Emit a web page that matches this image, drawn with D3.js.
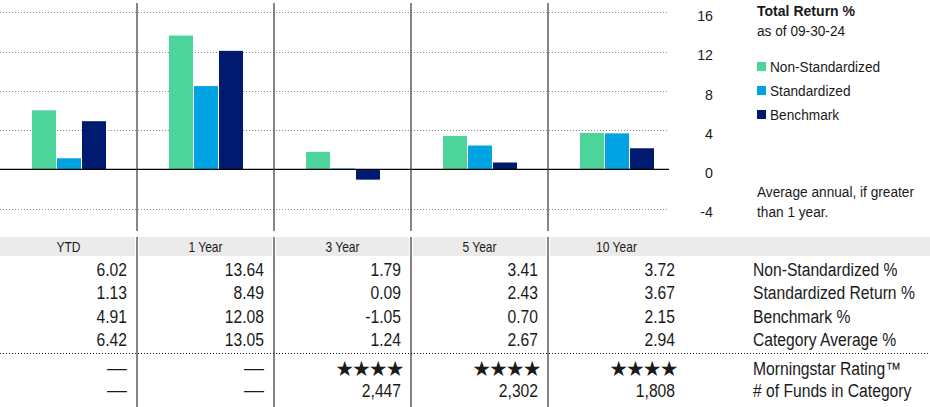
<!DOCTYPE html>
<html>
<head>
<meta charset="utf-8">
<script src="https://cdn.jsdelivr.net/npm/d3@7/dist/d3.min.js"></script>
<style>
  html, body { margin: 0; padding: 0; background: #fff; }
  svg { display: block; }
  text { font-family: "Liberation Sans", Arial, sans-serif; fill: #1a1a1a; }
</style>
</head>
<body>
<svg id="chart" width="930" height="407"></svg>
<script>
// Trailing total returns by period
const categories = ["YTD", "1 Year", "3 Year", "5 Year", "10 Year"];
const nonStandardized = [6.02, 13.64, 1.79, 3.41, 3.72];
const standardized = [1.13, 8.49, 0.09, 2.43, 3.67];
const benchmark = [4.91, 12.08, -1.05, 0.70, 2.15];
const categoryAverage = [6.42, 13.05, 1.24, 2.67, 2.94];
const ratings = [null, null, 4, 4, 4];
const fundsInCategory = [null, null, 2447, 2302, 1808];
const yTicks = [-4, 0, 4, 8, 12, 16];

const seriesNames = ["Non-Standardized", "Standardized", "Benchmark"];
const seriesColors = ["#4cd49a", "#00a3e2", "#001a70"];
const rowLabels = ["Non-Standardized %", "Standardized Return %", "Benchmark %", "Category Average %"];

const locale = d3.formatLocale({ decimal: ".", thousands: ",", grouping: [3], currency: ["$", ""], minus: "-" });
const fmt = locale.format(".2f");
const fmtInt = locale.format("d");
const fmtCount = locale.format(",");

const svg = d3.select("#chart");

// Narrow text: regular face squeezed horizontally for a condensed look
function place(sel, x, y, k) {
  return sel.attr("x", 0).attr("y", 0)
    .attr("transform", `translate(${x},${y}) scale(${k},1)`);
}

// Scales
const x = d3.scaleBand().domain(categories).range([0, 685]).padding(0);
const xInner = d3.scaleBand().domain(seriesNames).range([32, 107]).padding(0);
const y = d3.scaleLinear().domain([-4, 16]).range([208.6, 12.4]);
const plotRight = 669;

// Gridlines
svg.append("g").selectAll("line")
  .data(yTicks.filter(d => d !== 0))
  .join("line")
  .attr("x1", 0).attr("x2", plotRight)
  .attr("y1", d => Math.round(y(d)) + 0.5).attr("y2", d => Math.round(y(d)) + 0.5)
  .attr("stroke", "#8a8a8a").attr("stroke-width", 1)
  .attr("stroke-dasharray", "1,2");

// Bars
const series = [nonStandardized, standardized, benchmark];
const barData = [];
categories.forEach((c, i) => {
  seriesNames.forEach((s, j) => barData.push({ cat: c, s, v: series[j][i], color: seriesColors[j] }));
});
svg.append("g").selectAll("rect")
  .data(barData)
  .join("rect")
  .attr("x", d => x(d.cat) + xInner(d.s))
  .attr("width", xInner.bandwidth() - 1)
  .attr("y", d => Math.min(y(d.v), y(0)))
  .attr("height", d => Math.abs(y(d.v) - y(0)))
  .attr("fill", d => d.color);

// Zero line
svg.append("line")
  .attr("x1", 0).attr("x2", plotRight)
  .attr("y1", y(0)).attr("y2", y(0))
  .attr("stroke", "#000").attr("stroke-width", 1.2);

// Column separators in plot
svg.append("g").selectAll("line")
  .data(categories.slice(1))
  .join("line")
  .attr("x1", d => x(d)).attr("x2", d => x(d))
  .attr("y1", 3).attr("y2", 231)
  .attr("stroke", "#444").attr("stroke-width", 1.3);

// Y axis labels
const yAxis = svg.append("g")
  .attr("transform", "translate(713,0)")
  .call(d3.axisRight(y).tickValues(yTicks).tickSize(0).tickFormat(fmtInt));
yAxis.select(".domain").remove();
yAxis.selectAll("text")
  .attr("dy", null).attr("text-anchor", "end")
  .attr("fill", "#1a1a1a")
  .style("font-size", "15px")
  .call(place, 0, 8.3, 0.95);
yAxis.attr("font-family", null).attr("font-size", null);

// Legend
const LK = 0.93, LS = "14.7px";
const lg = svg.append("g").attr("transform", "translate(757,0)");
lg.append("text").text("Total Return %")
  .style("font-size", "14.8px").style("font-weight", "bold")
  .call(place, 0, 16, 0.95);
lg.append("text").text("as of 09-30-24").style("font-size", LS).call(place, 0, 36, LK);
seriesNames.forEach((s, j) => {
  const cy = 66.5 + j * 24;
  lg.append("rect").attr("x", 0).attr("y", cy - 4.5).attr("width", 9).attr("height", 9).attr("fill", seriesColors[j]);
  lg.append("text").text(s).style("font-size", LS).call(place, 13, cy + 5.2, LK);
});
lg.append("text").text("Average annual, if greater").style("font-size", LS).call(place, 0, 196.5, LK);
lg.append("text").text("than 1 year.").style("font-size", LS).call(place, 0, 217, LK);

// Table header band
const hdr = svg.append("g");
hdr.selectAll("rect")
  .data(categories)
  .join("rect")
  .attr("x", (d, i) => i === 0 ? 0 : x(d) + 2)
  .attr("width", (d, i) => i === categories.length - 1 ? 930 - x(d) - 2 : (i === 0 ? x.bandwidth() - 2 : x.bandwidth() - 4))
  .attr("y", 237).attr("height", 19)
  .attr("fill", "#ebebeb");
hdr.selectAll("text")
  .data(categories)
  .join("text")
  .attr("text-anchor", "middle")
  .style("font-size", "14px")
  .attr("fill", "#2a2a2a")
  .text(d => d)
  .each(function (d) { d3.select(this).call(place, x(d) + x.bandwidth() / 2, 252, 0.86); });

// Table separators
svg.append("g").selectAll("line")
  .data(categories.slice(1))
  .join("line")
  .attr("x1", d => x(d)).attr("x2", d => x(d))
  .attr("y1", 237).attr("y2", 407)
  .attr("stroke", "#333").attr("stroke-width", 1.2);

// Table rows
const TK = 0.87, TS = "18px";
const rows = [nonStandardized, standardized, benchmark, categoryAverage];
const rowBase = [275.5, 299, 322.5, 346];
const labelX = 753;
const cellRight = i => x(categories[i]) + x.bandwidth() - 10;
const body = svg.append("g");
rows.forEach((r, ri) => {
  body.selectAll(null)
    .data(r)
    .join("text")
    .attr("text-anchor", "end")
    .style("font-size", TS)
    .text(d => fmt(d))
    .each(function (d, i) { d3.select(this).call(place, cellRight(i), rowBase[ri], TK); });
  body.append("text").style("font-size", TS).text(rowLabels[ri]).call(place, labelX, rowBase[ri], TK);
});

// Dotted divider
svg.append("line")
  .attr("x1", 0).attr("x2", 930).attr("y1", 353.5).attr("y2", 353.5)
  .attr("stroke", "#111").attr("stroke-width", 1).attr("stroke-dasharray", "1,2");

// Ratings and fund counts
const starBase = 375, countBase = 397;
body.selectAll(null)
  .data(ratings)
  .join("text")
  .attr("text-anchor", "end")
  .style("font-size", d => d ? "21px" : "19px")
  .style("font-family", d => d ? "DejaVu Sans" : null)
  .style("letter-spacing", d => d ? "-2px" : null)
  .text(d => d ? "★".repeat(d) : "—")
  .each(function (d, i) { d3.select(this).call(place, d ? cellRight(i) + 1.5 : cellRight(i), d ? starBase + 0.5 : starBase - 1, d ? 1 : 1.05); });
body.selectAll(null)
  .data(fundsInCategory)
  .join("text")
  .attr("text-anchor", "end")
  .style("font-size", d => d ? TS : "19px")
  .text(d => d ? fmtCount(d) : "—")
  .each(function (d, i) { d3.select(this).call(place, cellRight(i), d ? countBase : countBase - 1, d ? TK : 1.05); });
body.append("text").style("font-size", TS).text("Morningstar Rating™").call(place, labelX, starBase, TK);
body.append("text").style("font-size", TS).text("# of Funds in Category").call(place, labelX, countBase, TK);
</script>
</body>
</html>
